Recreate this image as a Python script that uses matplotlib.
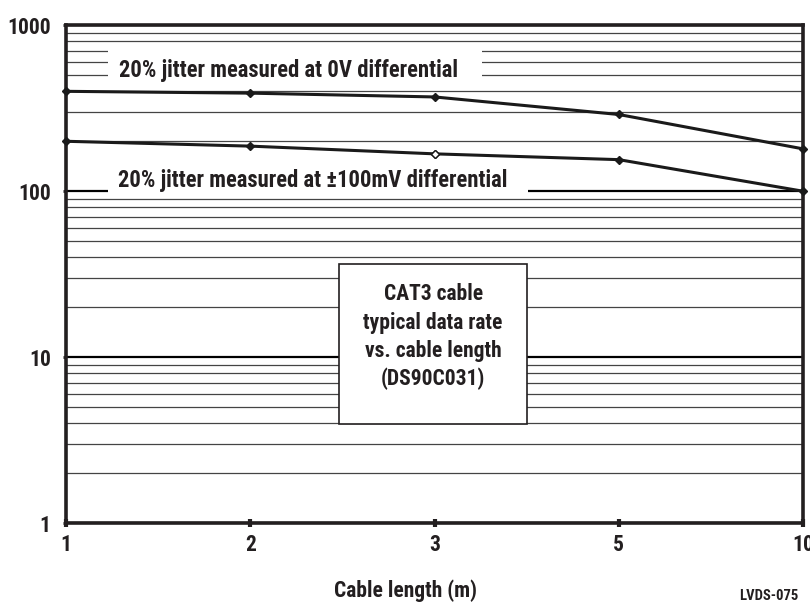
import numpy as np
import matplotlib
matplotlib.use("Agg")
import matplotlib.pyplot as plt
from matplotlib import font_manager
from matplotlib.patches import Rectangle

# look for a narrow bold face, the original uses a condensed sans
names = {f.name for f in font_manager.fontManager.ttflist}
narrow = [n for n in ['Liberation Sans Narrow', 'Roboto Condensed',
                      'Open Sans Condensed', 'Noto Sans Condensed',
                      'DejaVu Sans Condensed'] if n in names]
dv_cond = any(f.name == 'DejaVu Sans' and f.stretch == 'condensed'
              for f in font_manager.fontManager.ttflist)
if narrow:
    plt.rcParams['font.family'] = [narrow[0], 'DejaVu Sans']
    fs = 15.5
else:
    plt.rcParams['font.family'] = ['DejaVu Sans']
    plt.rcParams['font.stretch'] = 'condensed'
    fs = 12.8 if dv_cond else 11.6
plt.rcParams['font.weight'] = 'bold'

# cable length categories (equally spaced on the chart)
lengths = ['1', '2', '3', '5', '10']
# data rate (Mbps)
rate_0v = [400, 390, 370, 290, 180]
rate_100mv = [200, 187, 168, 155, 100]
hollow_idx = 2   # open diamond on the lower curve

label_0v = '20% jitter measured at 0V differential'
label_100mv = '20% jitter measured at \u00b1100mV differential'
box_text = 'CAT3 cable\ntypical data rate\nvs. cable length\n(DS90C031)'
ytick_vals = [1, 10, 100, 1000]
ink = '#231f20'

fig = plt.figure(figsize=(8.1, 6.02), dpi=100)
ax = fig.add_axes([0.0815, 0.131, 0.910, 0.827])

x = np.arange(len(lengths))
ax.set_yscale('log')
ax.set_ylim(1, 1000)
ax.set_xlim(x[0], x[-1])

# grid: heavy at decades, thin for the 2..9 lines
ax.set_axisbelow(True)
ax.yaxis.grid(True, which='major', color='black', lw=1.6)
ax.yaxis.grid(True, which='minor', color='#444444', lw=0.9)
ax.xaxis.grid(False)

ax.plot(x, rate_0v, color='#1a1a1a', lw=2.2, marker='D', ms=4,
        clip_on=False, zorder=3)
ax.plot(x, rate_100mv, color='#1a1a1a', lw=2.2, marker='D', ms=4,
        clip_on=False, zorder=3)
ax.plot(x[hollow_idx], rate_100mv[hollow_idx], marker='D', ms=4,
        mfc='white', mec='#1a1a1a', mew=1.0, ls='none', zorder=4)

# white gaps behind the curve labels
ax.add_patch(Rectangle((0.0568, 0.878), 0.508, 0.080, transform=ax.transAxes,
                       facecolor='white', edgecolor='none', zorder=1))
ax.add_patch(Rectangle((0.0568, 0.661), 0.570, 0.088, transform=ax.transAxes,
                       facecolor='white', edgecolor='none', zorder=1))
ax.text(0.302, 0.910, label_0v, transform=ax.transAxes, ha='center',
        va='center', fontsize=fs * 1.05, fontweight='bold', color=ink, zorder=5)
ax.text(0.335, 0.689, label_100mv, transform=ax.transAxes, ha='center',
        va='center', fontsize=fs * 1.05, fontweight='bold', color=ink, zorder=5)

# title box in the middle
ax.add_patch(Rectangle((0.370, 0.199), 0.256, 0.321, transform=ax.transAxes,
                       facecolor='white', edgecolor=ink, lw=1.2, zorder=2))
ax.text(0.498, 0.374, box_text, transform=ax.transAxes, ha='center',
        va='center', fontsize=fs, fontweight='bold', color=ink,
        linespacing=1.36, zorder=5)

for s in ax.spines.values():
    s.set_linewidth(2.6)
    s.set_color(ink)

ax.set_xticks(x)
ax.set_xticklabels(lengths)
ax.set_yticks(ytick_vals)
ax.set_yticklabels([str(v) for v in ytick_vals])
ax.yaxis.set_minor_formatter(matplotlib.ticker.NullFormatter())
ax.tick_params(axis='y', which='minor', length=0)
ax.tick_params(axis='y', which='major', length=2, width=2, pad=9,
               labelsize=fs, colors=ink)
ax.tick_params(axis='x', which='major', direction='inout', length=6, width=3,
               pad=5, labelsize=fs, colors=ink)

fig.text(0.5, 0.008, 'Cable length (m)', ha='center', va='baseline',
         fontsize=fs, fontweight='bold', color=ink)
fig.text(0.986, 0.004, 'LVDS-075', ha='right', va='baseline',
         fontsize=fs * 0.68, fontweight='bold', color=ink)

fig.savefig('out.png', dpi=100)
